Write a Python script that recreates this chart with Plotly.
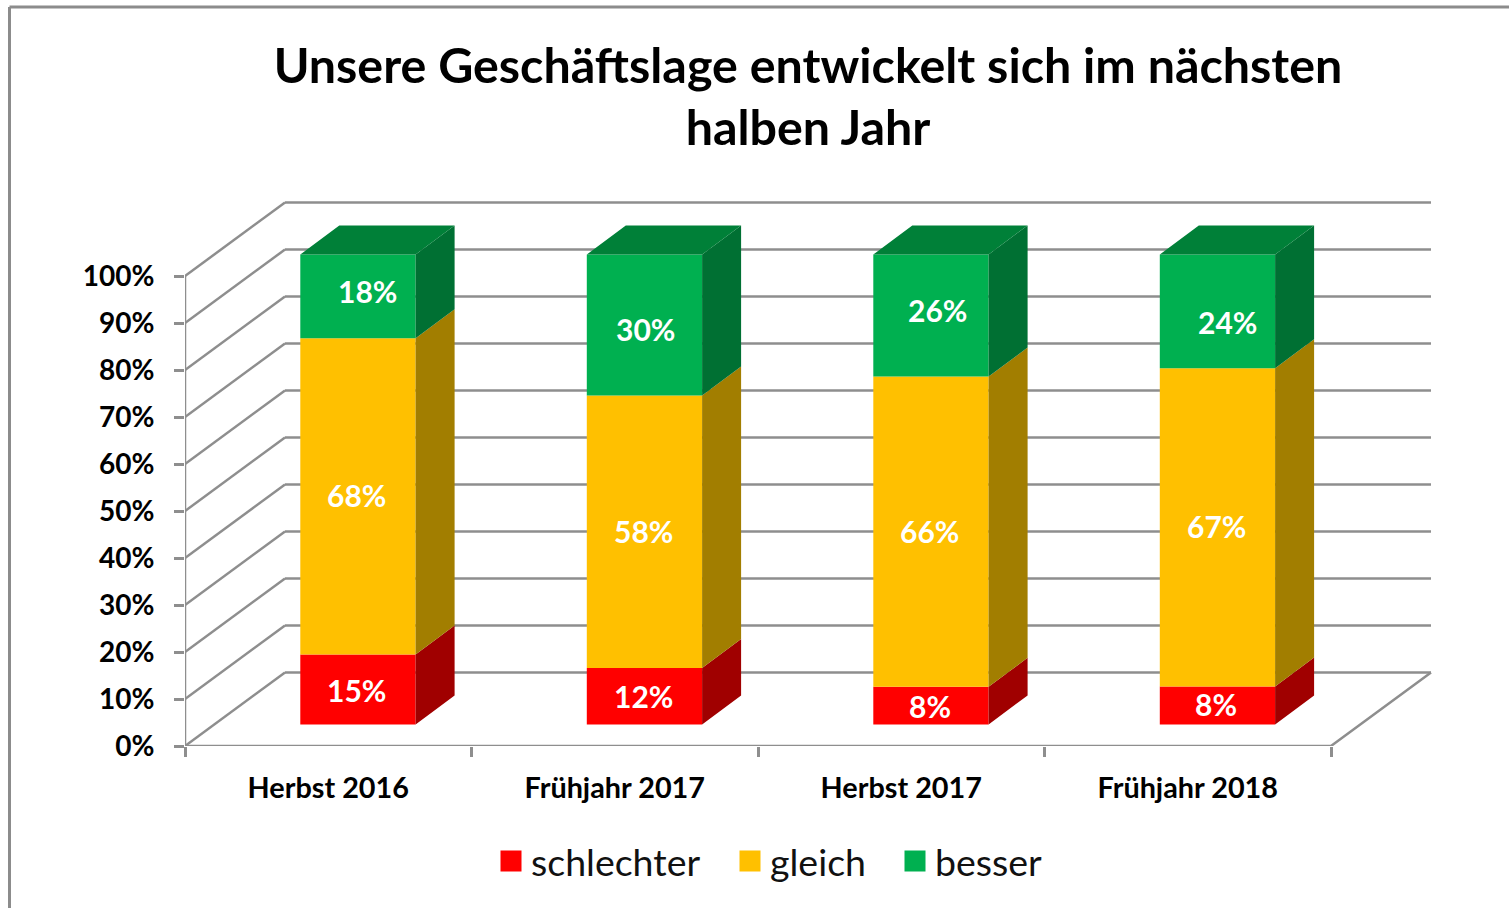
import plotly.graph_objects as go

title = "Unsere Geschäftslage entwickelt sich im nächsten<br>halben Jahr"
categories = ["Herbst 2016", "Frühjahr 2017", "Herbst 2017", "Frühjahr 2018"]
schlechter = [15, 12, 8, 8]
gleich = [68, 58, 66, 67]
besser = [18, 30, 26, 24]
y_ticks = [0, 10, 20, 30, 40, 50, 60, 70, 80, 90, 100]

series_names = ["schlechter", "gleich", "besser"]
series_values = [schlechter, gleich, besser]
front_colors = ["#ff0000", "#ffc000", "#00b050"]
side_colors = ["#a00000", "#a27e00", "#007033"]
top_color = "#008038"
grid_color = "#8e8e8e"
font = "Lato"

# pixel geometry of the pseudo-3D frame
W, H = 1509, 908
X0, Y0 = 185, 746          # front origin
CAT_PX = 286.5             # pixels per category
PCT_PX = 4.7               # pixels per percent
RIGHT, TOP = 1440, 190     # plot-area limit
xu = lambda px: px / CAT_PX
yu = lambda px: px / PCT_PX
WALL_DX, WALL_DY = xu(100), yu(73.5)
BAR_DX, BAR_DY = xu(29.7), yu(21.6)
DEPTH_DX, DEPTH_DY = xu(39), yu(29)
BAR_W = xu(115.3)

fig = go.Figure()

# frame: walls and gridlines under the bars
shapes = []
xmax = len(categories) + xu(0)
for t in y_ticks:
    shapes.append(dict(type="line", xref="x", yref="y", layer="below",
                       x0=0, y0=t, x1=WALL_DX, y1=t + WALL_DY,
                       line=dict(color=grid_color, width=2.5)))
    shapes.append(dict(type="line", xref="x", yref="y", layer="below",
                       x0=WALL_DX, y0=t + WALL_DY, x1=xmax + WALL_DX, y1=t + WALL_DY,
                       line=dict(color=grid_color, width=2.5)))
# chart border
pw, ph = RIGHT - X0, Y0 - TOP
px_x = lambda p: (p - X0) / pw
px_y = lambda p: (Y0 - p) / ph
shapes.append(dict(type="line", xref="paper", yref="paper", x0=px_x(9.5), x1=px_x(9.5),
                   y0=px_y(7), y1=px_y(H + 5), line=dict(color="#8c8c8c", width=3)))
shapes.append(dict(type="line", xref="paper", yref="paper", x0=px_x(9.5), x1=px_x(W + 5),
                   y0=px_y(7), y1=px_y(7), line=dict(color="#8c8c8c", width=3)))

# stacked bars and their pseudo-3D faces
centers = [i + 0.5 + BAR_DX for i in range(len(categories))]
label_dx = {0: [-1, -1, -1, -1], 1: [-1, -1, -1, -1], 2: [10, 1, 7, 10]}
label_dy = {0: [0, 0, 0, 1], 1: [1, 1, 1, 1], 2: [5, -4, 6, -11]}
annotations = []
cum = [0.0] * len(categories)
totals = [sum(v[i] for v in series_values) for i in range(len(categories))]
for s, name in enumerate(series_names):
    vals = series_values[s]
    pct = [vals[i] / totals[i] * 100 for i in range(len(categories))]
    bases = [c + BAR_DY for c in cum]
    fig.add_trace(go.Bar(x=centers, y=pct, base=bases, width=BAR_W, name=name,
                         marker=dict(color=front_colors[s], line=dict(width=0)),
                         showlegend=False, hoverinfo="skip"))
    sx, sy = [], []
    for i in range(len(categories)):
        xr = centers[i] + BAR_W / 2
        b, t = bases[i], bases[i] + pct[i]
        sx += [xr, xr + DEPTH_DX, xr + DEPTH_DX, xr, xr, None]
        sy += [b, b + DEPTH_DY, t + DEPTH_DY, t, b, None]
        annotations.append(dict(
            x=centers[i], y=(b + t) / 2, xref="x", yref="y", text=f"{vals[i]}%",
            showarrow=False, font=dict(family=font, size=30, color="white", weight=700),
            xshift=label_dx[s][i], yshift=label_dy[s][i]))
    fig.add_trace(go.Scatter(x=sx, y=sy, mode="lines", fill="toself", fillcolor=side_colors[s],
                             line=dict(width=0), showlegend=False, hoverinfo="skip"))
    cum = [c + p for c, p in zip(cum, pct)]

# top faces
tx, ty = [], []
for i in range(len(categories)):
    xl, xr = centers[i] - BAR_W / 2, centers[i] + BAR_W / 2
    t = cum[i] + BAR_DY
    tx += [xl, xr, xr + DEPTH_DX, xl + DEPTH_DX, xl, None]
    ty += [t, t, t + DEPTH_DY, t + DEPTH_DY, t, None]
fig.add_trace(go.Scatter(x=tx, y=ty, mode="lines", fill="toself", fillcolor=top_color,
                         line=dict(width=0), showlegend=False, hoverinfo="skip"))

# front axis lines and floor edge
fig.add_trace(go.Scatter(
    x=[0, 0, None, 0, xmax, xmax + WALL_DX],
    y=[y_ticks[-1], 0, None, 0, 0, WALL_DY],
    mode="lines", line=dict(color=grid_color, width=2.5),
    cliponaxis=False, showlegend=False, hoverinfo="skip"))

# legend entries, each in its own legend so the gaps can follow the reference
legend_ids = ["legend", "legend2", "legend3"]
legend_left = [491, 730, 895]
legends = {}
for s, name in enumerate(series_names):
    fig.add_trace(go.Scatter(x=[None], y=[None], mode="markers", name=name, legend=legend_ids[s],
                             marker=dict(symbol="square", size=16, color=front_colors[s],
                                         line=dict(color=front_colors[s], width=5))))
    legends[legend_ids[s]] = dict(
        orientation="h", x=px_x(legend_left[s]), xanchor="left", y=px_y(861), yanchor="middle",
        font=dict(family=font, size=37.5, color="#111111"), itemwidth=30,
        bgcolor="rgba(0,0,0,0)")

fig.update_layout(
    width=W, height=H, autosize=False,
    margin=dict(l=X0, r=W - RIGHT, t=TOP, b=H - Y0, pad=0),
    paper_bgcolor="white", plot_bgcolor="white",
    barmode="overlay", shapes=shapes, annotations=annotations,
    font=dict(family=font, color="black"),
    title=dict(text=title, x=808 / W, xanchor="center", y=1 - 82.5 / H, yanchor="middle",
               font=dict(family=font, size=48.4, color="black", weight=700)),
    xaxis=dict(range=[0, (RIGHT - X0) / CAT_PX], showgrid=False, zeroline=False, showline=False,
               tickmode="array", tickvals=[i + 0.5 for i in range(len(categories))],
               ticktext=categories, ticks="", ticklabelstandoff=22,
               tickfont=dict(family=font, size=28.8, color="black", weight=700),
               minor=dict(tickmode="array", tickvals=list(range(len(categories) + 1)),
                          ticks="outside", ticklen=10, tickwidth=2.5, tickcolor=grid_color,
                          showgrid=False)),
    yaxis=dict(range=[0, (Y0 - TOP) / PCT_PX], showgrid=False, zeroline=False, showline=False,
               tickmode="array", tickvals=y_ticks, ticktext=[f"{t}%" for t in y_ticks],
               ticks="outside", ticklen=10, tickwidth=2.5, tickcolor=grid_color,
               ticklabelstandoff=14,
               tickfont=dict(family=font, size=28, color="black", weight=700)),
    **legends,
)

fig.write_html("out.html", post_script="document.body.style.margin='0';",
               config=dict(displayModeBar=False))
